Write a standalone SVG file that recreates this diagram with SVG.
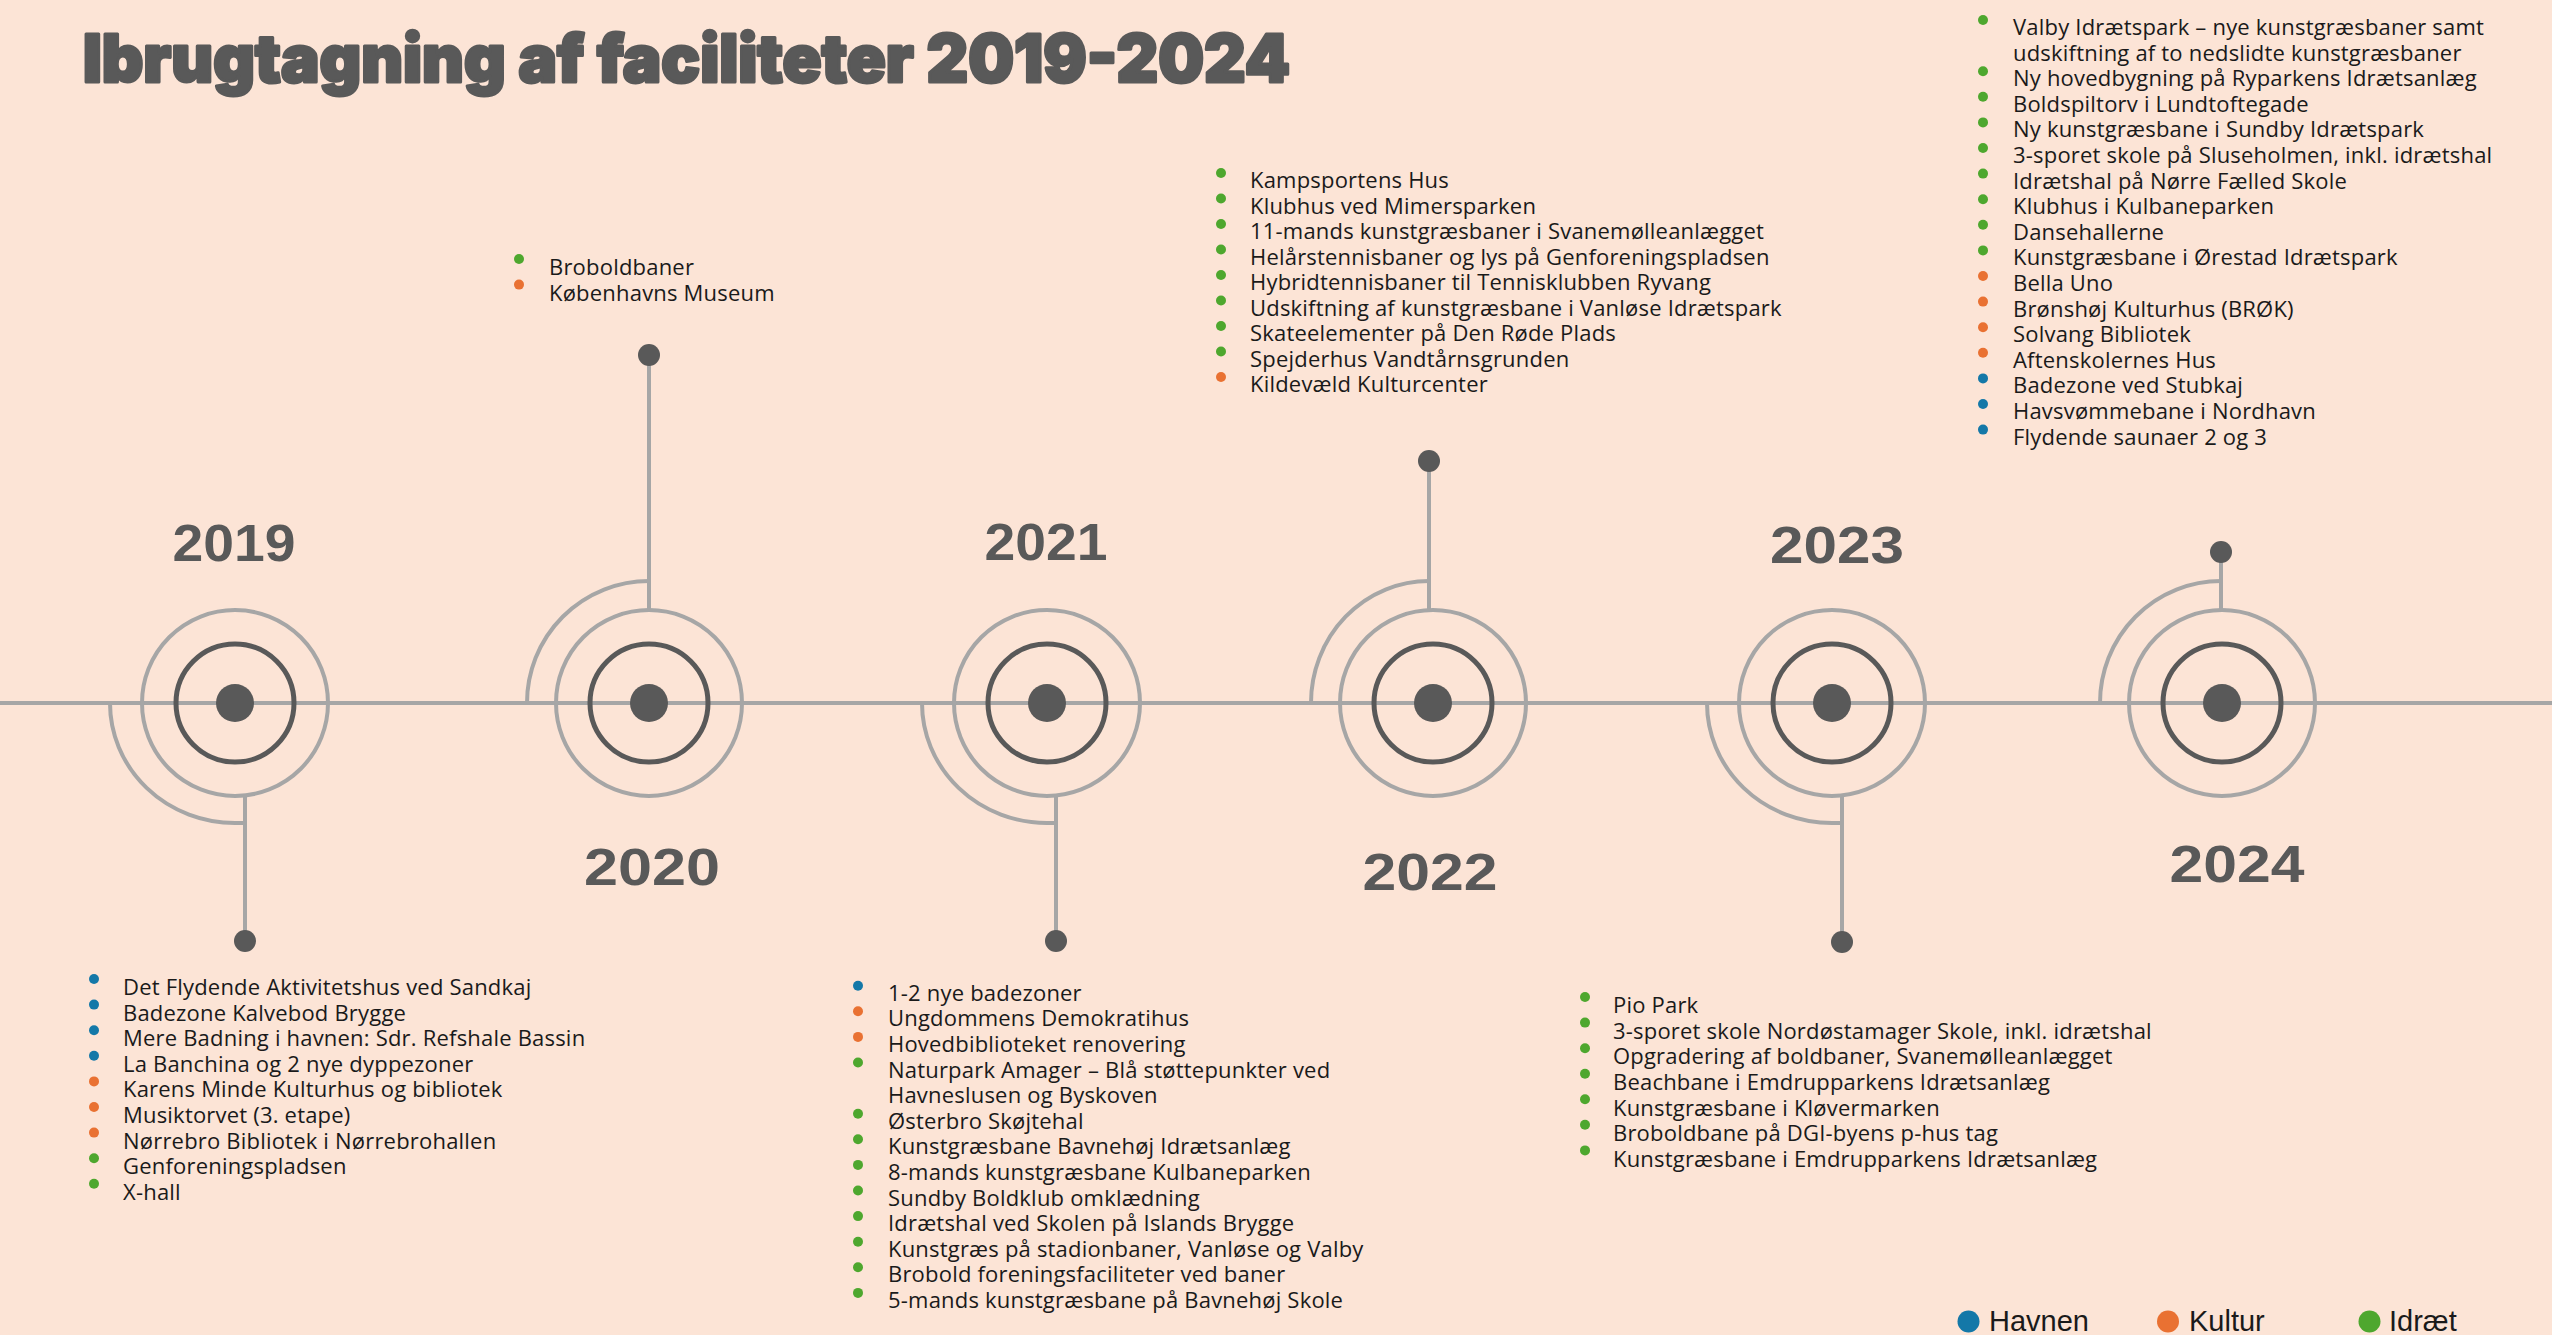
<svg xmlns="http://www.w3.org/2000/svg" width="2552" height="1335" viewBox="0 0 2552 1335">
<style>
.ln{stroke:#A6A6A6;stroke-width:4;fill:none}
.dring{stroke:#595959;stroke-width:5;fill:none}
.dot{fill:#595959}
.yr{font-family:"Liberation Sans",Arial,sans-serif;font-weight:bold;font-size:52px;fill:#595959;text-anchor:middle}
.it{font-family:"Open Sans",Lato,sans-serif;font-size:22px;letter-spacing:0.2px;fill:#1a1a1a}
.lg{font-family:"Liberation Sans",Arial,sans-serif;font-size:29px;fill:#1a1a1a}
.b{fill:#1478A8}.o{fill:#E97132}.g{fill:#4EA72E}
.title{font-family:Inter,Lato,sans-serif;font-weight:900;font-size:66px;fill:#595959;stroke:#595959;stroke-width:3;stroke-linejoin:round}
</style>
<rect width="2552" height="1335" fill="#FCE4D6"/>
<text class="title" x="83" y="82" textLength="1207" lengthAdjust="spacingAndGlyphs">Ibrugtagning af faciliteter 2019-2024</text>

<g id="connectors">
<line class="ln" x1="0" y1="703" x2="2552" y2="703"/>
<path class="ln" d="M110,703 A125,120 0 0 0 235,823 L245,823"/>
<line class="ln" x1="245" y1="795" x2="245" y2="941"/>
<circle class="dot" cx="245" cy="941" r="11"/>
<path class="ln" d="M527,703 A122,122 0 0 1 649,581"/>
<line class="ln" x1="649" y1="610" x2="649" y2="355"/>
<circle class="dot" cx="649" cy="355" r="11"/>
<path class="ln" d="M922,703 A125,120 0 0 0 1047,823 L1056,823"/>
<line class="ln" x1="1056" y1="795" x2="1056" y2="941"/>
<circle class="dot" cx="1056" cy="941" r="11"/>
<path class="ln" d="M1311,703 A118,122 0 0 1 1429,581"/>
<line class="ln" x1="1429" y1="611" x2="1429" y2="461"/>
<circle class="dot" cx="1429" cy="461" r="11"/>
<path class="ln" d="M1707,703 A125,120 0 0 0 1832,823 L1842,823"/>
<line class="ln" x1="1842" y1="795" x2="1842" y2="942"/>
<circle class="dot" cx="1842" cy="942" r="11"/>
<path class="ln" d="M2100,703 A121,122 0 0 1 2221,581"/>
<line class="ln" x1="2221" y1="610" x2="2221" y2="552"/>
<circle class="dot" cx="2221" cy="552" r="11"/>
</g>

<g id="node-2019">
<circle class="ln" cx="235" cy="703" r="93"/>
<circle class="dring" cx="235" cy="703" r="59"/>
<circle class="dot" cx="235" cy="703" r="19"/>
<text class="yr" x="234" y="561" textLength="123" lengthAdjust="spacingAndGlyphs">2019</text>
<circle class="b" cx="94" cy="979" r="5"/><text class="it" x="123" y="995">Det Flydende Aktivitetshus ved Sandkaj</text>
<circle class="b" cx="94" cy="1004.6" r="5"/><text class="it" x="123" y="1020.6">Badezone Kalvebod Brygge</text>
<circle class="b" cx="94" cy="1030.2" r="5"/><text class="it" x="123" y="1046.2">Mere Badning i havnen: Sdr. Refshale Bassin</text>
<circle class="b" cx="94" cy="1055.8" r="5"/><text class="it" x="123" y="1071.8">La Banchina og 2 nye dyppezoner</text>
<circle class="o" cx="94" cy="1081.4" r="5"/><text class="it" x="123" y="1097.4">Karens Minde Kulturhus og bibliotek</text>
<circle class="o" cx="94" cy="1107" r="5"/><text class="it" x="123" y="1123">Musiktorvet (3. etape)</text>
<circle class="o" cx="94" cy="1132.6" r="5"/><text class="it" x="123" y="1148.6">Nørrebro Bibliotek i Nørrebrohallen</text>
<circle class="g" cx="94" cy="1158.2" r="5"/><text class="it" x="123" y="1174.2">Genforeningspladsen</text>
<circle class="g" cx="94" cy="1183.8" r="5"/><text class="it" x="123" y="1199.8">X-hall</text>
</g>

<g id="node-2020">
<circle class="ln" cx="649" cy="703" r="93"/>
<circle class="dring" cx="649" cy="703" r="59"/>
<circle class="dot" cx="649" cy="703" r="19"/>
<text class="yr" x="652" y="885" textLength="136" lengthAdjust="spacingAndGlyphs">2020</text>
<circle class="g" cx="519" cy="259" r="5"/><text class="it" x="549" y="275">Broboldbaner</text>
<circle class="o" cx="519" cy="284.6" r="5"/><text class="it" x="549" y="300.6">Københavns Museum</text>
</g>

<g id="node-2021">
<circle class="ln" cx="1047" cy="703" r="93"/>
<circle class="dring" cx="1047" cy="703" r="59"/>
<circle class="dot" cx="1047" cy="703" r="19"/>
<text class="yr" x="1046" y="560" textLength="123" lengthAdjust="spacingAndGlyphs">2021</text>
<circle class="b" cx="858" cy="985.7" r="5"/><text class="it" x="888" y="1000.7">1-2 nye badezoner</text>
<circle class="o" cx="858" cy="1011.3" r="5"/><text class="it" x="888" y="1026.3">Ungdommens Demokratihus</text>
<circle class="o" cx="858" cy="1036.9" r="5"/><text class="it" x="888" y="1051.9">Hovedbiblioteket renovering</text>
<circle class="g" cx="858" cy="1062.5" r="5"/><text class="it" x="888" y="1077.5">Naturpark Amager – Blå støttepunkter ved</text>
<text class="it" x="888" y="1103.1">Havneslusen og Byskoven</text>
<circle class="g" cx="858" cy="1113.7" r="5"/><text class="it" x="888" y="1128.7">Østerbro Skøjtehal</text>
<circle class="g" cx="858" cy="1139.3" r="5"/><text class="it" x="888" y="1154.3">Kunstgræsbane Bavnehøj Idrætsanlæg</text>
<circle class="g" cx="858" cy="1164.9" r="5"/><text class="it" x="888" y="1179.9">8-mands kunstgræsbane Kulbaneparken</text>
<circle class="g" cx="858" cy="1190.5" r="5"/><text class="it" x="888" y="1205.5">Sundby Boldklub omklædning</text>
<circle class="g" cx="858" cy="1216.1" r="5"/><text class="it" x="888" y="1231.1">Idrætshal ved Skolen på Islands Brygge</text>
<circle class="g" cx="858" cy="1241.7" r="5"/><text class="it" x="888" y="1256.7">Kunstgræs på stadionbaner, Vanløse og Valby</text>
<circle class="g" cx="858" cy="1267.3" r="5"/><text class="it" x="888" y="1282.3">Brobold foreningsfaciliteter ved baner</text>
<circle class="g" cx="858" cy="1292.9" r="5"/><text class="it" x="888" y="1307.9">5-mands kunstgræsbane på Bavnehøj Skole</text>
</g>

<g id="node-2022">
<circle class="ln" cx="1433" cy="703" r="93"/>
<circle class="dring" cx="1433" cy="703" r="59"/>
<circle class="dot" cx="1433" cy="703" r="19"/>
<text class="yr" x="1430" y="890" textLength="135" lengthAdjust="spacingAndGlyphs">2022</text>
<circle class="g" cx="1221" cy="173" r="5"/><text class="it" x="1250" y="188.3">Kampsportens Hus</text>
<circle class="g" cx="1221" cy="198.5" r="5"/><text class="it" x="1250" y="213.8">Klubhus ved Mimersparken</text>
<circle class="g" cx="1221" cy="224" r="5"/><text class="it" x="1250" y="239.3">11-mands kunstgræsbaner i Svanemølleanlægget</text>
<circle class="g" cx="1221" cy="249.5" r="5"/><text class="it" x="1250" y="264.8">Helårstennisbaner og lys på Genforeningspladsen</text>
<circle class="g" cx="1221" cy="275" r="5"/><text class="it" x="1250" y="290.3">Hybridtennisbaner til Tennisklubben Ryvang</text>
<circle class="g" cx="1221" cy="300.5" r="5"/><text class="it" x="1250" y="315.8">Udskiftning af kunstgræsbane i Vanløse Idrætspark</text>
<circle class="g" cx="1221" cy="326" r="5"/><text class="it" x="1250" y="341.3">Skateelementer på Den Røde Plads</text>
<circle class="g" cx="1221" cy="351.5" r="5"/><text class="it" x="1250" y="366.8">Spejderhus Vandtårnsgrunden</text>
<circle class="o" cx="1221" cy="377" r="5"/><text class="it" x="1250" y="392.3">Kildevæld Kulturcenter</text>
</g>

<g id="node-2023">
<circle class="ln" cx="1832" cy="703" r="93"/>
<circle class="dring" cx="1832" cy="703" r="59"/>
<circle class="dot" cx="1832" cy="703" r="19"/>
<text class="yr" x="1837" y="563" textLength="134" lengthAdjust="spacingAndGlyphs">2023</text>
<circle class="g" cx="1585" cy="997" r="5"/><text class="it" x="1613" y="1013.3">Pio Park</text>
<circle class="g" cx="1585" cy="1022.6" r="5"/><text class="it" x="1613" y="1038.9">3-sporet skole Nordøstamager Skole, inkl. idrætshal</text>
<circle class="g" cx="1585" cy="1048.2" r="5"/><text class="it" x="1613" y="1064.4">Opgradering af boldbaner, Svanemølleanlægget</text>
<circle class="g" cx="1585" cy="1073.7" r="5"/><text class="it" x="1613" y="1090">Beachbane i Emdrupparkens Idrætsanlæg</text>
<circle class="g" cx="1585" cy="1099.3" r="5"/><text class="it" x="1613" y="1115.5">Kunstgræsbane i Kløvermarken</text>
<circle class="g" cx="1585" cy="1124.8" r="5"/><text class="it" x="1613" y="1141.1">Broboldbane på DGI-byens p-hus tag</text>
<circle class="g" cx="1585" cy="1150.4" r="5"/><text class="it" x="1613" y="1166.7">Kunstgræsbane i Emdrupparkens Idrætsanlæg</text>
</g>

<g id="node-2024">
<circle class="ln" cx="2222" cy="703" r="93"/>
<circle class="dring" cx="2222" cy="703" r="59"/>
<circle class="dot" cx="2222" cy="703" r="19"/>
<text class="yr" x="2237" y="882" textLength="135" lengthAdjust="spacingAndGlyphs">2024</text>
<circle class="g" cx="1983" cy="20" r="5"/><text class="it" x="2013" y="35">Valby Idrætspark – nye kunstgræsbaner samt</text>
<text class="it" x="2013" y="60.6">udskiftning af to nedslidte kunstgræsbaner</text>
<circle class="g" cx="1983" cy="71.2" r="5"/><text class="it" x="2013" y="86.2">Ny hovedbygning på Ryparkens Idrætsanlæg</text>
<circle class="g" cx="1983" cy="96.8" r="5"/><text class="it" x="2013" y="111.8">Boldspiltorv i Lundtoftegade</text>
<circle class="g" cx="1983" cy="122.4" r="5"/><text class="it" x="2013" y="137.4">Ny kunstgræsbane i Sundby Idrætspark</text>
<circle class="g" cx="1983" cy="148" r="5"/><text class="it" x="2013" y="163">3-sporet skole på Sluseholmen, inkl. idrætshal</text>
<circle class="g" cx="1983" cy="173.6" r="5"/><text class="it" x="2013" y="188.6">Idrætshal på Nørre Fælled Skole</text>
<circle class="g" cx="1983" cy="199.2" r="5"/><text class="it" x="2013" y="214.2">Klubhus i Kulbaneparken</text>
<circle class="g" cx="1983" cy="224.8" r="5"/><text class="it" x="2013" y="239.8">Dansehallerne</text>
<circle class="g" cx="1983" cy="250.4" r="5"/><text class="it" x="2013" y="265.4">Kunstgræsbane i Ørestad Idrætspark</text>
<circle class="o" cx="1983" cy="276" r="5"/><text class="it" x="2013" y="291">Bella Uno</text>
<circle class="o" cx="1983" cy="301.6" r="5"/><text class="it" x="2013" y="316.6">Brønshøj Kulturhus (BRØK)</text>
<circle class="o" cx="1983" cy="327.2" r="5"/><text class="it" x="2013" y="342.2">Solvang Bibliotek</text>
<circle class="o" cx="1983" cy="352.8" r="5"/><text class="it" x="2013" y="367.8">Aftenskolernes Hus</text>
<circle class="b" cx="1983" cy="378.4" r="5"/><text class="it" x="2013" y="393.4">Badezone ved Stubkaj</text>
<circle class="b" cx="1983" cy="404" r="5"/><text class="it" x="2013" y="419">Havsvømmebane i Nordhavn</text>
<circle class="b" cx="1983" cy="429.6" r="5"/><text class="it" x="2013" y="444.6">Flydende saunaer 2 og 3</text>
</g>

<g id="legend">
<circle class="b" cx="1968.5" cy="1321.5" r="11"/><text class="lg" x="1989" y="1331">Havnen</text>
<circle class="o" cx="2168" cy="1321.5" r="11"/><text class="lg" x="2189" y="1331">Kultur</text>
<circle class="g" cx="2369.5" cy="1321.5" r="11"/><text class="lg" x="2389" y="1331">Idræt</text>
</g>
</svg>
